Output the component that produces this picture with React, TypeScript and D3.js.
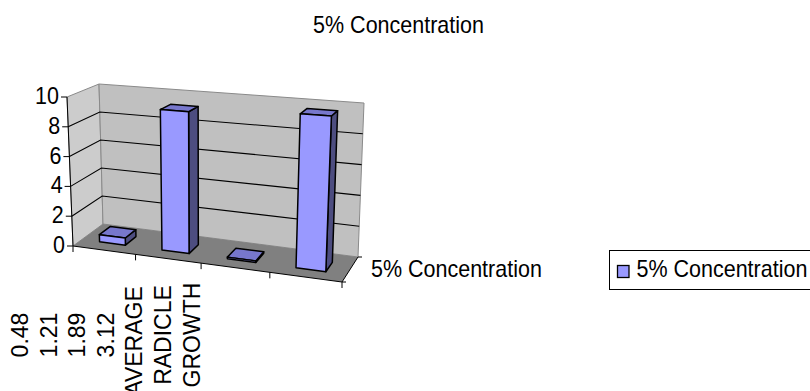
import React from "react";
import * as d3 from "d3";

// Chart content
const chartTitle = "5% Concentration";
const seriesName = "5% Concentration";
const categoryLines = ["0.48", "1.21", "1.89", "3.12", "AVERAGE", "RADICLE", "GROWTH"];
const categories = ["c1", "c2", "c3", "c4"];
const seriesValues = [0.48, 9.3, 0.1, 9.7];
const valueTicks = [0, 2, 4, 6, 8, 10];

type P = [number, number];

// Corners of the 3D plot box: [front/back][bottom/top][left/right]
const FL0: P = [73, 246];
const FR0: P = [342, 282];
const BL0: P = [103, 224];
const BR0: P = [358, 257];
const FL1: P = [67, 97];
const FR1: P = [349, 117];
const BL1: P = [99, 84];
const BR1: P = [364, 103];

const mix = (a: P, b: P, t: number): P => [a[0] + (b[0] - a[0]) * t, a[1] + (b[1] - a[1]) * t];

const xBand = d3.scaleBand<string>().domain(categories).range([0, 1]).paddingInner(0.58).paddingOuter(0.29);
const yScale = d3.scaleLinear().domain([0, 10]).range([0, 1]);

// Maps across (u), depth (v) and height (w) onto the page; categories widen towards the viewer
function project(u: number, v: number, w: number): P {
  const s = u / (1.1 - 0.1 * u);
  const bottom = mix(mix(FL0, FR0, s), mix(BL0, BR0, s), v);
  const top = mix(mix(FL1, FR1, s), mix(BL1, BR1, s), v);
  return mix(bottom, top, w);
}

const poly = d3.line<P>().x((d) => d[0]).y((d) => d[1]);
const closed = (pts: P[]) => poly(pts) + "Z";

const FONT = "'Liberation Sans', Arial, sans-serif";
const FRONT = "#9999ff";
const TOP = "#7777cc";
const SIDE = "#4d4d80";
const INK = "#000";
const V0 = 0.3;
const V1 = 0.68;

function Label(props: { x: number; y: number; anchor?: string; children: React.ReactNode }) {
  // Horizontal text runs slightly narrower than it is tall
  return (
    <text
      transform={`translate(${props.x},${props.y}) scale(0.935,1)`}
      fontFamily={FONT}
      fontSize={23}
      textAnchor={props.anchor ?? "start"}
      fill={INK}
    >
      {props.children}
    </text>
  );
}

function Bar({ name, value }: { name: string; value: number }) {
  const u0 = xBand(name)!;
  const u1 = u0 + xBand.bandwidth();
  const w = yScale(value);
  const top = closed([project(u0, V0, w), project(u1, V0, w), project(u1, V1, w), project(u0, V1, w)]);
  const side = closed([project(u1, V0, 0), project(u1, V1, 0), project(u1, V1, w), project(u1, V0, w)]);
  const front = closed([project(u0, V0, 0), project(u1, V0, 0), project(u1, V0, w), project(u0, V0, w)]);
  return (
    <g stroke={INK} strokeWidth={1.5} strokeLinejoin="round">
      <path d={side} fill={SIDE} />
      <path d={top} fill={TOP} />
      <path d={front} fill={FRONT} />
    </g>
  );
}

export default function App() {
  return (
    <svg
      width={810}
      height={391}
      viewBox="0 0 810 391"
      style={{ position: "absolute", left: 0, top: 0, display: "block", background: "#fff" }}
    >
      <Label x={398.5} y={33} anchor="middle">{chartTitle}</Label>

      {/* walls and floor */}
      <path d={closed([FL0, BL0, BL1, FL1])} fill="#cccccc" stroke="#8a8a8a" strokeWidth={1} />
      <path d={closed([BL0, BR0, BR1, BL1])} fill="#c0c0c0" stroke="#8a8a8a" strokeWidth={1} />
      <path d={closed([FL0, FR0, BR0, BL0])} fill="#808080" />

      {/* gridlines across both walls */}
      {valueTicks.filter((t) => t > 0 && t < 10).map((t) => {
        const w = yScale(t);
        return (
          <path
            key={t}
            d={poly([project(0, 0, w), project(0, 1, w), project(1, 1, w)])!}
            fill="none"
            stroke={INK}
            strokeWidth={1.1}
          />
        );
      })}

      {/* axes */}
      <path d={poly([FL1, FL0])!} fill="none" stroke={INK} strokeWidth={1} />
      <path d={poly([FL0, FR0, BR0])!} fill="none" stroke={INK} strokeWidth={1} />

      {valueTicks.map((t) => {
        const p = project(0, 0, yScale(t));
        return (
          <g key={t}>
            <line x1={p[0] - 6} x2={p[0]} y1={p[1]} y2={p[1]} stroke={INK} />
            <Label x={p[0] - 8} y={p[1] + 7} anchor="end">{t}</Label>
          </g>
        );
      })}

      {d3.range(0, categories.length + 1).map((i) => {
        const p = project(i / categories.length, 0, 0);
        return <line key={i} x1={p[0]} x2={p[0]} y1={p[1]} y2={p[1] + 6} stroke={INK} />;
      })}
      <line x1={BR0[0]} x2={BR0[0] + 4} y1={BR0[1]} y2={BR0[1]} stroke={INK} />
      <line x1={FR0[0]} x2={FR0[0] + 4} y1={FR0[1]} y2={FR0[1]} stroke={INK} />

      {categories.map((c, i) => (
        <Bar key={c} name={c} value={seriesValues[i]} />
      ))}

      <Label x={371} y={277}>{seriesName}</Label>

      {/* category text wrapped into the first category, rotated and centred on one line */}
      {categoryLines.map((line, i) => (
        <text
          key={line}
          transform={`translate(${28 + i * 28.6},${line === "AVERAGE" ? 341 : 335}) rotate(-90)`}
          fontFamily={FONT}
          fontSize={23}
          textAnchor="middle"
          fill={INK}
        >
          {line}
        </text>
      ))}

      {/* legend */}
      <rect x={609.5} y={250.5} width={210} height={39} fill="#fff" stroke={INK} strokeWidth={1} />
      <rect x={617.5} y={265.5} width={11.5} height={12} fill={FRONT} stroke={INK} strokeWidth={1.3} />
      <Label x={636.5} y={277}>{seriesName}</Label>
    </svg>
  );
}
